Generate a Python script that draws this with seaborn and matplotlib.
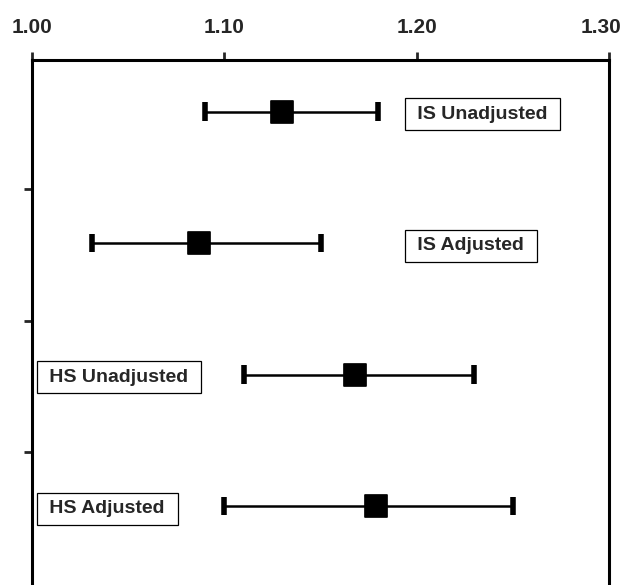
import matplotlib
matplotlib.use("Agg")
import matplotlib.pyplot as plt
import matplotlib.transforms as mtransforms
import seaborn as sns
import pandas as pd

# Estimativas e intervalos
grupos = ["IS Unadjusted", "IS Adjusted", "HS Unadjusted", "HS Adjusted"]
estimativa = [1.130, 1.087, 1.168, 1.179]
inferior = [1.090, 1.031, 1.110, 1.100]
superior = [1.180, 1.150, 1.230, 1.250]
ticks_x = [1.00, 1.10, 1.20, 1.30]
rotulos_x = ["1.00", "1.10", "1.20", "1.30"]

dados = pd.DataFrame({"grupo": grupos, "est": estimativa,
                      "lo": inferior, "hi": superior})
dados["pos"] = range(len(grupos))

sns.set_style("white")
plt.rcParams["font.family"] = ["Liberation Sans", "DejaVu Sans"]

fig = plt.figure(figsize=(6.26, 5.85), dpi=100)
ax = fig.add_axes([0.051, 0.0, 0.922, 0.897])

# Intervalos de confiança
ax.hlines(dados["pos"], dados["lo"], dados["hi"], color="black", linewidth=1.8, zorder=2)
ax.vlines(dados["lo"], dados["pos"] - 0.07, dados["pos"] + 0.07, color="black", linewidth=4, zorder=2)
ax.vlines(dados["hi"], dados["pos"] - 0.07, dados["pos"] + 0.07, color="black", linewidth=4, zorder=2)

# Estimativas pontuais
sns.scatterplot(data=dados, x="est", y="pos", marker="s", s=240, color="black",
                edgecolor="black", ax=ax, zorder=3, legend=False)

# Rótulos em caixas
posicoes_rotulo = [1.1976, 1.1976, 1.0065, 1.0065]
for i, g in enumerate(grupos):
    ax.text(posicoes_rotulo[i], i + 0.02, " " + g + " ", fontsize=14, fontweight="bold",
            va="center", ha="left", zorder=4,
            bbox=dict(boxstyle="square,pad=0.38", facecolor="white", edgecolor="black", linewidth=0.9))

ax.set_xlim(1.0, 1.3)
ax.set_ylim(3.6, -0.39)
ax.xaxis.tick_top()
ax.set_xticks(ticks_x)
ax.set_xticklabels(rotulos_x, fontsize=15, fontweight="bold")
ax.tick_params(axis="x", direction="out", length=6, width=2, pad=11, top=True, bottom=False)
ax.set_yticks([0.59, 1.59, 2.59])
ax.set_yticklabels([])
ax.tick_params(axis="y", direction="out", length=6, width=2, left=True)
ax.set_xlabel("")
ax.set_ylabel("")

# o último rótulo fica um pouco para a esquerda, como no original
ultimo = ax.get_xticklabels()[-1]
ultimo.set_transform(ultimo.get_transform() +
                     mtransforms.ScaledTranslation(-8 / 100, 0, fig.dpi_scale_trans))

for lado in ["top", "left", "right"]:
    ax.spines[lado].set_linewidth(2.2)
    ax.spines[lado].set_color("black")
ax.spines["bottom"].set_visible(False)

plt.savefig("out.png", dpi=100)
